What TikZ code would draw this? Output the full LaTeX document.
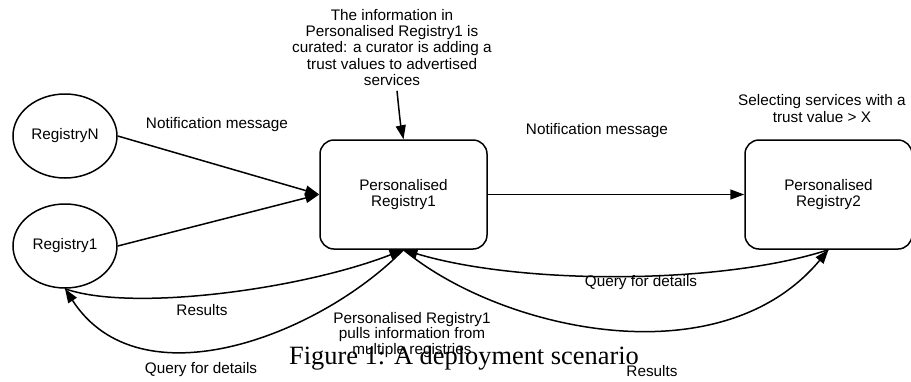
\documentclass[tikz,border=0pt]{standalone}
\usepackage{fontspec}
\setmainfont{Liberation Sans}
\newfontfamily\capfont{Liberation Serif}
\usetikzlibrary{arrows.meta,shapes.geometric}

\tikzset{
	reg/.style={draw, ellipse, line width=1.5pt, minimum width=104pt, minimum height=84pt, inner sep=0pt, align=center},
	preg/.style={draw, rectangle, rounded corners=14pt, line width=1.5pt, minimum width=167pt, minimum height=109pt, align=center},
	note/.style={align=center, inner sep=2pt},
	flow/.style={line width=1.5pt, -{Triangle[length=14pt,width=10pt]}},
}

\begin{document}
\begin{tikzpicture}[x=1pt, y=-1pt, font=\fontsize{15.3}{16.25}\selectfont]
		%%%%% START %%%%%
		\useasboundingbox (0,0) rectangle (911,381);
		
		% registries and the two personalised ones
		\node[reg] (regN) at (65,136) {RegistryN};
		\node[reg] (reg1) at (65,246) {Registry1};
		\node[preg] (pr1) at (403.5,194.5) {Personalised\\Registry1};
		\node[preg] (pr2) at (828.5,194.5) {Personalised\\Registry2};
		
		% notes
		\node[note] (cur) at (392,47.5) {The information in\\Personalised Registry1 is\\curated: a curator is adding a\\trust values to advertised\\services};
		\node[note] (sel) at (822,108.5) {Selecting services with a\\trust value > X};
		\node[note, font=\fontsize{15.3}{15.3}\selectfont] (pull) at (412,335) {Personalised Registry1\\pulls information from\\multiple registries};
		
		% message labels
		\node (ntfyA) at (217,125) {Notification message};
		\node (ntfyB) at (597,131) {Notification message};
		\node (resA) at (202,310) {Results};
		\node (qryA) at (201,370) {Query for details};
		\node (qryB) at (641,283) {Query for details};
		\node (resB) at (652,371) {Results};
		
		% notifications
		\draw[flow] (regN.east) -- (pr1.west);
		\draw[flow] (reg1.east) -- (pr1.west);
		\draw[flow] (pr1.east) -- (pr2.west);
		\draw[flow] ([xshift=5pt,yshift=-3pt]cur.south) .. controls +(2,20) and +(-3,-15) .. (pr1.north);
		
		% queries and results
		\draw[flow] (reg1.south) .. controls (130,312) and (300,290) .. (pr1.south);
		\draw[flow] (pr1.south) .. controls (320,335) and (140,405) .. (reg1.south);
		\draw[flow] (pr2.south) .. controls (720,285) and (520,285) .. (pr1.south);
		\draw[flow] (pr1.south) .. controls (500,330) and (720,380) .. (pr2.south);
		
		\node[font=\capfont\fontsize{26.4}{28}\selectfont, anchor=base] (cap) at (464,364) {Figure 1: A deployment scenario};
		
		%%%%% END %%%%%
	\end{tikzpicture}
\end{document}
